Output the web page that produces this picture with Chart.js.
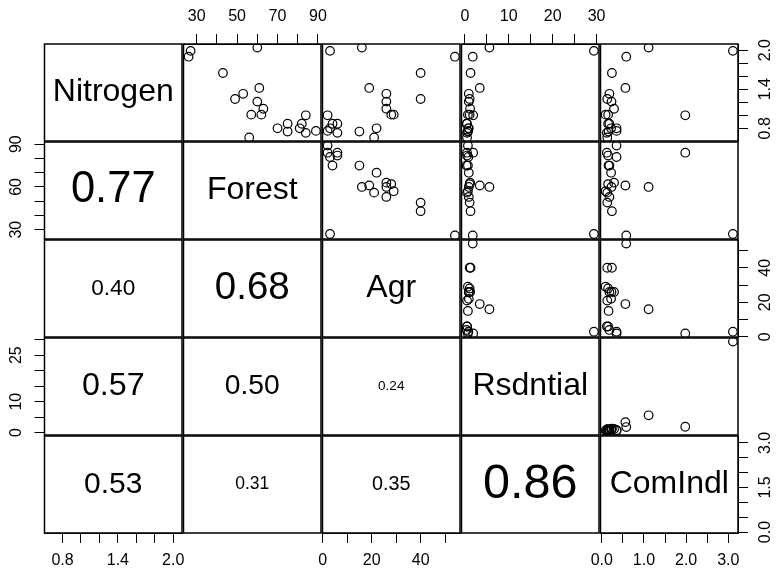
<!DOCTYPE html>
<html>
<head>
<meta charset="utf-8">
<script src="https://cdn.jsdelivr.net/npm/chart.js@4.4.1/dist/chart.umd.min.js"></script>
<style>
    body { margin: 0; background: #fff; overflow: hidden; }
    #wrap { position: relative; width: 778px; height: 575px; }
    #wrap canvas { position: absolute; left: 0; top: 0; }
</style>
</head>
<body>
<div id="wrap"></div>
<script>
// Pairs plot: scatter panels above the diagonal, |r| below it

const varNames = ['Nitrogen', 'Forest', 'Agr', 'Rsdntial', 'ComIndl'];

const nitrogen = [1.10, 1.01, 1.90, 1.00, 1.99, 1.42, 2.04, 1.65, 1.01, 1.21, 1.33, 0.75, 0.73, 0.80, 0.76, 0.87, 0.80, 0.87, 0.66, 1.25];
const forest   = [63, 57, 26, 84, 27, 61, 60, 43, 62, 60, 53, 75, 84, 81, 89, 82, 70, 75, 56, 49];
const agr      = [26, 29, 54, 2, 3, 19, 16, 40, 28, 26, 26, 15, 6, 3, 2, 6, 22, 4, 21, 40];
const rsdntial = [1.2, 0.7, 1.8, 1.9, 29.4, 3.4, 5.6, 1.3, 1.1, 0.9, 0.9, 0.7, 0.5, 0.8, 0.7, 0.5, 0.9, 0.4, 0.5, 1.1];
const comIndl  = [0.29, 0.09, 0.58, 1.98, 3.11, 0.56, 1.11, 0.24, 0.15, 0.23, 0.18, 0.16, 0.12, 0.35, 0.35, 0.15, 0.22, 0.18, 0.13, 0.13];

// lower triangle: correlation shown in panel [row][col]
const corrLower = [
    [],
    [0.77],
    [0.40, 0.68],
    [0.57, 0.50, 0.24],
    [0.53, 0.31, 0.35, 0.86]
];

// tick marks and the labels R kept (blank = skipped label)
const nitrogenTicks = [0.8, 1.0, 1.2, 1.4, 1.6, 1.8, 2.0];
const nitrogenLabels = ['0.8', '', '', '1.4', '', '', '2.0'];
const forestTicks = [30, 40, 50, 60, 70, 80, 90];
const forestTopLabels = ['30', '', '50', '', '70', '', '90'];
const forestLeftLabels = ['30', '', '', '60', '', '', '90'];
const agrTicks = [0, 10, 20, 30, 40, 50];
const agrLabels = ['0', '', '20', '', '40', ''];
const rsdTicks = [0, 5, 10, 15, 20, 25, 30];
const rsdTopLabels = ['0', '', '10', '', '20', '', '30'];
const rsdLeftLabels = ['0', '', '10', '', '', '25', ''];
const comTicks = [0, 0.5, 1.0, 1.5, 2.0, 2.5, 3.0];
const comBottomLabels = ['0.0', '', '1.0', '', '2.0', '', '3.0'];
const comRightLabels = ['0.0', '', '', '1.5', '', '', '3.0'];

const series = [nitrogen, forest, agr, rsdntial, comIndl];
const tickValues = [nitrogenTicks, forestTicks, agrTicks, rsdTicks, comTicks];
const xTickLabels = [nitrogenLabels, forestTopLabels, agrLabels, rsdTopLabels, comBottomLabels];
const yTickLabels = [nitrogenLabels, forestLeftLabels, agrLabels, rsdLeftLabels, comRightLabels];

// layout
const W = 778, H = 575;
const FONT = "'Liberation Sans', Arial, sans-serif";
const left0 = 44.5, top0 = 44, stepX = 139, stepY = 98;
const panelW = 137.5, panelH = 97;
const AX = 38;      // space kept for an outer axis
const TICK = 10;

Chart.defaults.font.family = FONT;
Chart.defaults.font.size = 16;
Chart.defaults.color = '#000';

const mctx = document.createElement('canvas').getContext('2d');
function textW(t, size) {
    mctx.font = size + 'px ' + FONT;
    return mctx.measureText(t).width;
}

// R pads the data range by 4%
const ranges = series.map(v => {
    const lo = Math.min(...v), hi = Math.max(...v), d = (hi - lo) * 0.04;
    return [lo - d, hi + d];
});

function makeScale(v, axis, position) {
    const show = position !== null;
    const labels = axis === 'x' ? xTickLabels[v] : yTickLabels[v];
    const widest = Math.max(...labels.map(l => textW(l, 16)));
    return {
        type: 'linear',
        position: position || (axis === 'x' ? 'bottom' : 'left'),
        display: show,
        min: ranges[v][0],
        max: ranges[v][1],
        afterBuildTicks: s => { s.ticks = tickValues[v].map(t => ({ value: t })); },
        afterFit: s => {
            const size = show ? AX : 0;
            if (axis === 'x') s.height = size; else s.width = size;
        },
        grid: { display: show, drawOnChartArea: false, drawTicks: true, tickLength: TICK, tickWidth: 1, tickColor: '#000' },
        border: { display: show, color: '#000', width: 1 },
        ticks: {
            autoSkip: false,
            minRotation: axis === 'x' ? 0 : 90,
            maxRotation: axis === 'x' ? 0 : 90,
            crossAlign: axis === 'x' ? 'near' : 'center',
            padding: axis === 'x' ? 8 : Math.max(0, 18 - widest / 2),
            color: '#000',
            font: { size: 16 },
            callback: (val, i) => labels[i]
        }
    };
}

const panelPlugin = {
    id: 'panel',
    afterDraw(chart, args, opts) {
        const { ctx, chartArea: a } = chart;
        ctx.save();
        ctx.strokeStyle = '#000';
        ctx.lineWidth = 1.5;
        ctx.strokeRect(a.left, a.top, a.right - a.left, a.bottom - a.top);
        if (opts.text) {
            let size = opts.size;
            if (opts.fitFrac) {
                // R: text width = 0.8 * panel width * r
                size = 100 * (opts.fitFrac * (a.right - a.left)) / textW(opts.text, 100);
            }
            ctx.fillStyle = '#000';
            ctx.textAlign = 'center';
            ctx.textBaseline = 'middle';
            ctx.font = size + 'px ' + FONT;
            ctx.fillText(opts.text, (a.left + a.right) / 2, (a.top + a.bottom) / 2);
        }
        ctx.restore();
    }
};

const wrap = document.getElementById('wrap');

for (let r = 0; r < 5; r++) {
    for (let c = 0; c < 5; c++) {
        const x0 = left0 + c * stepX, y0 = top0 + r * stepY;
        const x1 = x0 + panelW, y1 = y0 + panelH;

        let xPos = null, yPos = null;
        if (r === 0 && c % 2 === 1) xPos = 'top';
        if (r === 4 && c % 2 === 0) xPos = 'bottom';
        if (c === 0 && r % 2 === 1) yPos = 'left';
        if (c === 4 && r % 2 === 0) yPos = 'right';

        const padding = {
            left: x0 - (yPos === 'left' ? AX : 0),
            right: W - x1 - (yPos === 'right' ? AX : 0),
            top: y0 - (xPos === 'top' ? AX : 0),
            bottom: H - y1 - (xPos === 'bottom' ? AX : 0)
        };

        const datasets = [];
        let panelOpts = {};
        if (r < c) {
            datasets.push({
                data: series[c].map((xv, i) => ({ x: xv, y: series[r][i] })),
                showLine: false,
                pointRadius: 4.3,
                pointHoverRadius: 4.3,
                pointBorderWidth: 1.2,
                pointBackgroundColor: 'rgba(0,0,0,0)',
                pointBorderColor: '#000'
            });
        } else if (r === c) {
            panelOpts = { text: varNames[r], size: 32 };
        } else {
            const val = corrLower[r][c];
            panelOpts = { text: val.toFixed(2), fitFrac: 0.8 * val };
        }

        const canvas = document.createElement('canvas');
        canvas.width = W;
        canvas.height = H;
        wrap.appendChild(canvas);

        new Chart(canvas, {
            type: 'scatter',
            data: { datasets: datasets },
            options: {
                responsive: false,
                animation: false,
                devicePixelRatio: 1,
                layout: { padding: padding },
                scales: {
                    x: makeScale(c, 'x', xPos),
                    y: makeScale(r, 'y', yPos)
                },
                plugins: {
                    legend: { display: false },
                    tooltip: { enabled: false },
                    panel: panelOpts
                }
            },
            plugins: [panelPlugin]
        });
    }
}
</script>
</body>
</html>
